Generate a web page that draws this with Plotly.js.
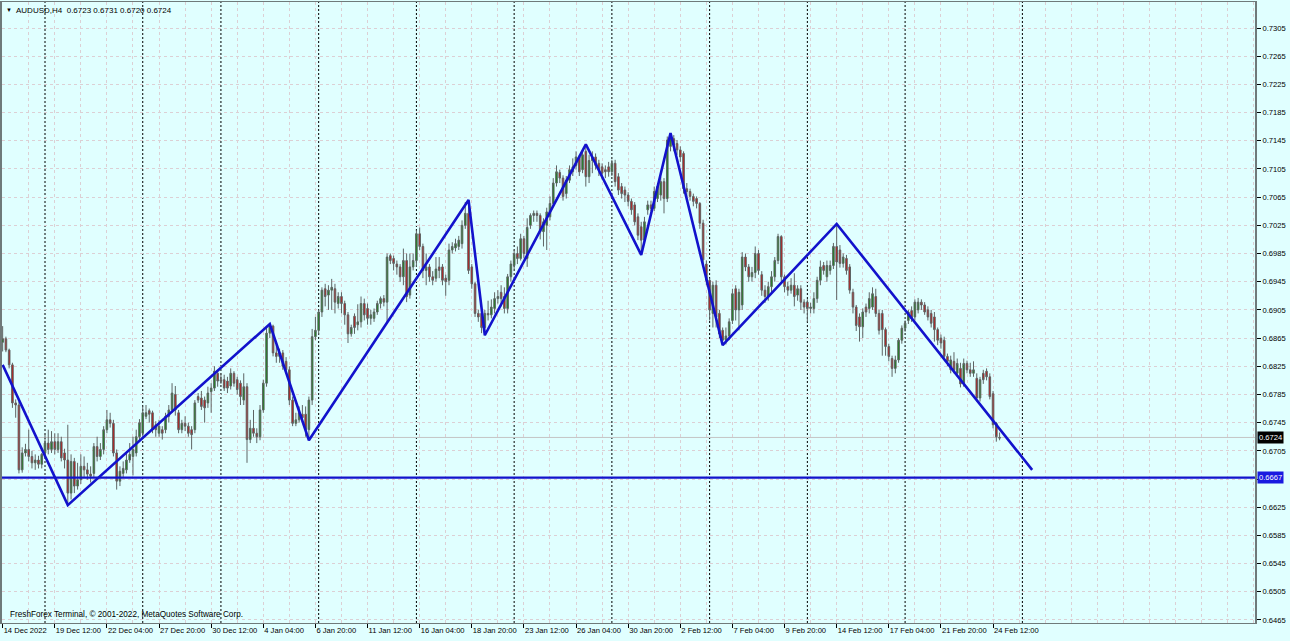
<!DOCTYPE html>
<html>
<head>
<meta charset="utf-8">
<script src="https://cdn.plot.ly/plotly-3.0.1.min.js"></script>
<style>
html,body{margin:0;padding:0;background:#E0FFFF;}
#chart{width:1290px;height:641px;}
</style>
</head>
<body>
<div id="chart"></div>
<script>
// ---- data ----
const symbolTitle = "AUDUSD,H4  0.6723 0.6731 0.6720 0.6724";
const watermark = "FreshForex Terminal, \u00A9 2001-2022, MetaQuotes Software Corp.";

const timeLabels = ["14 Dec 2022","19 Dec 12:00","22 Dec 04:00","27 Dec 20:00","30 Dec 12:00","4 Jan 04:00","6 Jan 20:00","11 Jan 12:00","16 Jan 04:00","18 Jan 20:00","23 Jan 12:00","26 Jan 04:00","30 Jan 20:00","2 Feb 12:00","7 Feb 04:00","9 Feb 20:00","14 Feb 12:00","17 Feb 04:00","21 Feb 20:00","24 Feb 12:00"];
const barsPerLabel = 16;

const priceTicks = [0.6465,0.6505,0.6545,0.6585,0.6625,0.6665,0.6705,0.6745,0.6785,0.6825,0.6865,0.6905,0.6945,0.6985,0.7025,0.7065,0.7105,0.7145,0.7185,0.7225,0.7265,0.7305];

const open = [
.6859,.6864,.6848,.6827,.6773,.6770,.6678,.6702,.6707,.6697,
.6688,.6692,.6686,.6702,.6716,.6707,.6718,.6707,.6718,.6702,
.6692,.6645,.6690,.6655,.6664,.6683,.6678,.6672,.6673,.6711,
.6697,.6707,.6735,.6749,.6744,.6702,.6662,.6673,.6678,.6692,
.6697,.6702,.6725,.6730,.6754,.6762,.6759,.6742,.6730,.6735,
.6735,.6754,.6763,.6785,.6759,.6735,.6744,.6740,.6735,.6735,
.6782,.6780,.6777,.6773,.6789,.6794,.6815,.6806,.6806,.6804,
.6797,.6815,.6806,.6801,.6777,.6796,.6721,.6737,.6730,.6725,
.6763,.6801,.6872,.6882,.6844,.6839,.6844,.6832,.6820,.6777,
.6744,.6749,.6757,.6757,.6735,.6777,.6867,.6876,.6902,.6935,
.6926,.6933,.6935,.6914,.6924,.6914,.6898,.6871,.6896,.6884,
.6888,.6914,.6907,.6893,.6893,.6902,.6914,.6921,.6916,.6982,
.6978,.6970,.6966,.6952,.6975,.6926,.6966,.6975,.7013,.6995,
.6961,.6966,.6952,.6950,.6966,.6966,.6950,.6947,.6990,.6993,
.6995,.6999,.7025,.7042,.6966,.6942,.6900,.6900,.6880,.6900,
.6898,.6907,.6921,.6930,.6924,.6907,.6952,.6968,.6985,.6978,
.7006,.6978,.7025,.7039,.7042,.7039,.7016,.7025,.7037,.7056,
.7085,.7100,.7092,.7070,.7089,.7101,.7110,.7122,.7104,.7130,
.7094,.7117,.7122,.7113,.7108,.7104,.7108,.7101,.7113,.7094,
.7080,.7075,.7068,.7059,.7054,.7037,.7023,.7004,.7047,.7054,
.7049,.7063,.7068,.7087,.7063,.7137,.7148,.7141,.7132,.7127,
.7077,.7073,.7066,.7063,.7056,.7028,.6970,.6947,.6900,.6940,
.6900,.6876,.6862,.6868,.6890,.6935,.6905,.6912,.6980,.6966,
.6952,.6958,.6985,.6955,.6933,.6924,.6938,.6952,.6975,.7009,
.6952,.6938,.6933,.6940,.6926,.6935,.6916,.6916,.6907,.6907,
.6921,.6947,.6968,.6952,.6961,.6968,.6995,.6990,.6971,.6978,
.6966,.6930,.6909,.6895,.6881,.6909,.6907,.6909,.6924,.6900,
.6900,.6877,.6853,.6836,.6822,.6834,.6862,.6879,.6890,.6904,
.6895,.6905,.6916,.6912,.6905,.6900,.6895,.6877,.6865,.6862,
.6839,.6820,.6832,.6815,.6822,.6801,.6829,.6820,.6815,.6808,
.6780,.6815,.6818,.6810,.6786,.6744,.6723];

const high = [
.6882,.6867,.6850,.6830,.6778,.6775,.6710,.6715,.6735,.6705,
.6700,.6698,.6702,.6728,.6735,.6733,.6730,.6730,.6725,.6708,
.6742,.6700,.6695,.6688,.6700,.6697,.6688,.6683,.6716,.6725,
.6716,.6740,.6763,.6759,.6749,.6707,.6683,.6690,.6702,.6716,
.6725,.6735,.6750,.6768,.6770,.6765,.6762,.6747,.6749,.6740,
.6759,.6770,.6801,.6797,.6763,.6749,.6754,.6745,.6740,.6777,
.6787,.6790,.6782,.6796,.6801,.6825,.6820,.6815,.6813,.6810,
.6822,.6818,.6810,.6805,.6815,.6801,.6749,.6763,.6737,.6770,
.6806,.6880,.6885,.6884,.6855,.6850,.6848,.6838,.6825,.6782,
.6759,.6768,.6770,.6768,.6782,.6878,.6895,.6905,.6937,.6942,
.6940,.6949,.6942,.6930,.6930,.6918,.6902,.6884,.6900,.6913,
.6924,.6921,.6914,.6905,.6907,.6918,.6924,.6926,.6985,.6985,
.6982,.6975,.6970,.6992,.6985,.6985,.6985,.7018,.7022,.6999,
.6985,.6970,.6960,.6980,.6980,.6970,.6955,.6999,.7001,.7006,
.7010,.7032,.7058,.7061,.6970,.6945,.6905,.6907,.6905,.6918,
.6920,.6930,.6933,.6940,.6937,.6956,.6975,.6990,.6995,.7013,
.7010,.7035,.7042,.7046,.7046,.7042,.7035,.7050,.7066,.7092,
.7110,.7104,.7096,.7095,.7110,.7120,.7130,.7125,.7132,.7140,
.7125,.7130,.7127,.7118,.7113,.7110,.7115,.7118,.7118,.7099,
.7085,.7080,.7072,.7063,.7058,.7042,.7030,.7037,.7060,.7060,
.7080,.7085,.7094,.7092,.7151,.7156,.7153,.7146,.7137,.7130,
.7085,.7077,.7070,.7066,.7058,.7033,.6975,.6950,.6945,.6947,
.6905,.6880,.6880,.6893,.6935,.6940,.6935,.6987,.6985,.6970,
.6966,.6995,.6990,.6960,.6940,.6945,.6960,.6980,.7013,.7011,
.6955,.6945,.6950,.6957,.6940,.6940,.6920,.6920,.6915,.6930,
.6952,.6975,.6973,.6975,.6975,.7000,.7027,.6997,.6985,.6983,
.6970,.6935,.6912,.6900,.6907,.6914,.6930,.6937,.6935,.6905,
.6905,.6880,.6857,.6840,.6840,.6865,.6883,.6890,.6905,.6910,
.6920,.6922,.6920,.6916,.6910,.6905,.6902,.6880,.6870,.6867,
.6843,.6840,.6845,.6836,.6830,.6836,.6833,.6830,.6832,.6815,
.6810,.6820,.6822,.6815,.6790,.6746,.6731];

const low = [
.6846,.6845,.6822,.6766,.6752,.6673,.6674,.6697,.6690,.6680,
.6678,.6680,.6680,.6697,.6700,.6702,.6700,.6702,.6690,.6680,
.6628,.6636,.6645,.6650,.6658,.6668,.6664,.6660,.6668,.6690,
.6692,.6700,.6730,.6738,.6697,.6650,.6655,.6668,.6673,.6688,
.6670,.6697,.6720,.6725,.6750,.6745,.6730,.6725,.6725,.6721,
.6730,.6745,.6759,.6755,.6730,.6730,.6733,.6725,.6707,.6730,
.6773,.6763,.6745,.6766,.6759,.6790,.6796,.6800,.6790,.6787,
.6792,.6796,.6785,.6770,.6770,.6688,.6716,.6725,.6716,.6720,
.6759,.6796,.6865,.6839,.6830,.6830,.6820,.6815,.6770,.6740,
.6740,.6745,.6745,.6725,.6720,.6770,.6862,.6870,.6895,.6910,
.6905,.6905,.6900,.6907,.6900,.6884,.6858,.6867,.6871,.6876,
.6880,.6890,.6884,.6884,.6888,.6898,.6907,.6910,.6886,.6970,
.6961,.6955,.6945,.6940,.6916,.6921,.6961,.6966,.6990,.6950,
.6940,.6945,.6940,.6945,.6950,.6940,.6925,.6940,.6985,.6988,
.6990,.6992,.7020,.6956,.6935,.6895,.6888,.6872,.6869,.6890,
.6893,.6900,.6914,.6910,.6900,.6900,.6945,.6963,.6970,.6975,
.6978,.6966,.7020,.7030,.7030,.7005,.6995,.6990,.7032,.7052,
.7080,.7085,.7060,.7063,.7085,.7095,.7104,.7095,.7099,.7080,
.7085,.7099,.7104,.7095,.7090,.7092,.7094,.7095,.7080,.7068,
.7063,.7058,.7052,.7040,.7025,.7004,.6983,.6999,.7040,.7045,
.7045,.7058,.7060,.7042,.7058,.7130,.7130,.7125,.7115,.7070,
.7065,.7060,.7052,.7049,.7020,.6966,.6940,.6890,.6880,.6880,
.6865,.6855,.6856,.6862,.6885,.6890,.6876,.6905,.6960,.6945,
.6945,.6950,.6955,.6925,.6915,.6918,.6930,.6945,.6970,.6945,
.6930,.6925,.6928,.6910,.6918,.6905,.6900,.6888,.6900,.6900,
.6915,.6940,.6955,.6945,.6955,.6963,.6919,.6965,.6965,.6955,
.6928,.6900,.6875,.6860,.6865,.6895,.6900,.6905,.6895,.6870,
.6840,.6840,.6832,.6810,.6815,.6830,.6857,.6874,.6885,.6888,
.6890,.6900,.6905,.6898,.6890,.6880,.6860,.6855,.6850,.6834,
.6825,.6815,.6815,.6810,.6795,.6796,.6815,.6810,.6810,.6775,
.6775,.6800,.6805,.6778,.6737,.6718,.6720];

const close = [
.6864,.6848,.6827,.6773,.6770,.6678,.6702,.6707,.6697,.6688,
.6692,.6686,.6700,.6716,.6707,.6718,.6707,.6718,.6695,.6692,
.6645,.6690,.6655,.6664,.6683,.6678,.6672,.6669,.6711,.6697,
.6707,.6735,.6749,.6744,.6702,.6662,.6676,.6680,.6692,.6700,
.6707,.6725,.6745,.6759,.6759,.6757,.6735,.6735,.6740,.6730,
.6754,.6763,.6787,.6763,.6735,.6744,.6740,.6730,.6728,.6773,
.6777,.6768,.6766,.6787,.6794,.6818,.6804,.6804,.6794,.6794,
.6815,.6801,.6792,.6782,.6796,.6721,.6737,.6730,.6725,.6763,
.6801,.6872,.6882,.6844,.6839,.6844,.6825,.6820,.6777,.6744,
.6749,.6759,.6752,.6735,.6777,.6867,.6876,.6902,.6933,.6924,
.6933,.6937,.6916,.6924,.6914,.6898,.6871,.6880,.6880,.6888,
.6914,.6898,.6893,.6898,.6902,.6914,.6921,.6916,.6980,.6975,
.6971,.6966,.6952,.6975,.6924,.6966,.6975,.7013,.6995,.6961,
.6966,.6952,.6947,.6963,.6961,.6947,.6945,.6990,.6995,.6999,
.7004,.7025,.7042,.6961,.6942,.6900,.6895,.6880,.6900,.6898,
.6909,.6921,.6924,.6921,.6907,.6952,.6970,.6985,.6978,.7006,
.6985,.7022,.7039,.7042,.7039,.7016,.7030,.7044,.7056,.7085,
.7101,.7092,.7066,.7089,.7104,.7108,.7122,.7101,.7125,.7094,
.7117,.7122,.7110,.7104,.7099,.7101,.7101,.7113,.7087,.7075,
.7070,.7068,.7059,.7047,.7030,.7011,.7004,.7030,.7054,.7049,
.7073,.7080,.7087,.7063,.7146,.7153,.7139,.7132,.7122,.7077,
.7073,.7066,.7059,.7056,.7028,.6976,.6947,.6905,.6940,.6895,
.6871,.6862,.6868,.6888,.6928,.6905,.6930,.6980,.6966,.6952,
.6958,.6985,.6961,.6933,.6924,.6938,.6952,.6975,.7009,.6952,
.6938,.6933,.6940,.6924,.6935,.6916,.6909,.6907,.6909,.6921,
.6947,.6966,.6961,.6968,.6968,.6995,.6973,.6971,.6980,.6961,
.6933,.6909,.6883,.6881,.6902,.6902,.6921,.6928,.6900,.6876,
.6877,.6853,.6839,.6822,.6834,.6862,.6879,.6886,.6902,.6893,
.6916,.6916,.6912,.6902,.6895,.6886,.6877,.6862,.6858,.6839,
.6832,.6834,.6820,.6829,.6800,.6829,.6820,.6815,.6820,.6780,
.6806,.6806,.6810,.6782,.6742,.6725,.6724];

// ZigZag pivots: bar index and price
const zigBars   = [0, 20, 82, 94, 143, 148, 179, 196, 205, 221, 256, 316];
const zigPrices = [.6827, .6628, .6885, .6720, .7061, .6869, .7140, .6983, .7156, .6855, .7027, .6678];

// Weekly period separators (bar index of each Monday 00:00)
const separatorBars = [13, 43, 67, 97, 127, 157, 187, 217, 247, 277, 313];

const hLineLevel = 0.6667;   // horizontal line object
const bidLevel = 0.6724;     // last price

// ---- build ----
const idx = close.map((_, i) => i);
const labelBars = timeLabels.map((_, k) => k * barsPerLabel);
// the horizontal-line label covers the price tick just beside it
const priceTickText = priceTicks.map(v => Math.abs(v - hLineLevel) < 0.0012 ? '' : v.toFixed(4));

const BG = '#E0FFFF';
const GRID = '#dccfd4';
const AX = '#6f7a7a';
const FONT = 'Liberation Sans, Arial, sans-serif';

const candles = {
  type: 'candlestick',
  x: idx, open: open, high: high, low: low, close: close,
  increasing: {line: {color: '#5e6464', width: 1}, fillcolor: '#118a11'},
  decreasing: {line: {color: '#5e6464', width: 1}, fillcolor: '#cc1010'},
  whiskerwidth: 0,
  hoverinfo: 'skip',
  showlegend: false
};

const zig = {
  type: 'scatter', mode: 'lines',
  x: zigBars, y: zigPrices,
  line: {color: '#1212cc', width: 2.6},
  hoverinfo: 'skip', showlegend: false
};

const shapes = [];
separatorBars.forEach(b => shapes.push({
  type: 'line', xref: 'x', yref: 'paper', x0: b, x1: b, y0: 0, y1: 1,
  line: {color: '#000000', width: 1, dash: '2px,2px'}, layer: 'below'
}));
shapes.push({type:'line', xref:'paper', yref:'y', x0:0, x1:1, y0:bidLevel, y1:bidLevel,
  line:{color:'#c4c4c4', width:1}, layer:'below'});
shapes.push({type:'line', xref:'paper', yref:'y', x0:0, x1:1, y0:hLineLevel, y1:hLineLevel,
  line:{color:'#1212cc', width:2.2}, layer:'above'});

const annotations = [
  {xref:'paper', yref:'paper', x:0, y:1, xanchor:'left', yanchor:'top', xshift:2, yshift:-3,
   text:'\u25BC', showarrow:false, font:{family:FONT, size:6, color:'#000'}},
  {xref:'paper', yref:'paper', x:0, y:1, xanchor:'left', yanchor:'top', xshift:12, yshift:-2,
   text:symbolTitle.replace(/  /g,'&nbsp;&nbsp;'), showarrow:false, font:{family:FONT, size:8, color:'#000'}},
  {xref:'paper', yref:'paper', x:0, y:0, xanchor:'left', yanchor:'bottom', xshift:6, yshift:2,
   text:watermark, showarrow:false, font:{family:FONT, size:8.2, color:'#000'}},
  {xref:'paper', yref:'y', x:1, y:bidLevel, xanchor:'left', yanchor:'middle', xshift:2,
   text:bidLevel.toFixed(4), showarrow:false, bgcolor:'#000000', borderpad:1,
   font:{family:FONT, size:7.6, color:'#ffffff'}},
  {xref:'paper', yref:'y', x:1, y:hLineLevel, xanchor:'left', yanchor:'middle', xshift:2,
   text:hLineLevel.toFixed(4), showarrow:false, bgcolor:'#1a1ae0', borderpad:1,
   font:{family:FONT, size:7.6, color:'#ffffff'}}
];

const layout = {
  width: 1290, height: 641,
  margin: {l: 2, r: 35, t: 2, b: 18, pad: 0},
  paper_bgcolor: BG, plot_bgcolor: BG,
  font: {family: FONT, size: 7.6, color: '#000'},
  showlegend: false,
  xaxis: {
    type: 'linear', range: [-0.2, 384.4],
    tickmode: 'array', tickvals: labelBars, ticktext: timeLabels,
    tickangle: 0, ticklabelposition: 'outside right', ticklabeloverflow: 'allow',
    ticks: 'outside', ticklen: 4, tickcolor: '#000', tickwidth: 1,
    showgrid: true, gridcolor: GRID, griddash: '3px,3px', gridwidth: 1,
    minor: {tickmode: 'linear', tick0: 0, dtick: 8, showgrid: true, gridcolor: GRID, griddash: '3px,3px', ticklen: 0},
    showline: true, linecolor: AX, linewidth: 1, mirror: true,
    zeroline: false, rangeslider: {visible: false}, fixedrange: true,
    tickfont: {family: FONT, size: 7.6, color: '#000'}
  },
  yaxis: {
    side: 'right', range: [0.64607, 0.73419],
    tickmode: 'array', tickvals: priceTicks, ticktext: priceTickText,
    ticks: 'outside', ticklen: 4, tickcolor: '#000',
    showgrid: true, gridcolor: GRID, griddash: '3px,3px',
    showline: true, linecolor: AX, linewidth: 2, mirror: true,
    zeroline: false, fixedrange: true,
    tickfont: {family: FONT, size: 7.6, color: '#000'}
  },
  shapes: shapes,
  annotations: annotations
};

Plotly.newPlot('chart', [candles, zig], layout, {displayModeBar: false, staticPlot: true});
</script>
</body>
</html>
